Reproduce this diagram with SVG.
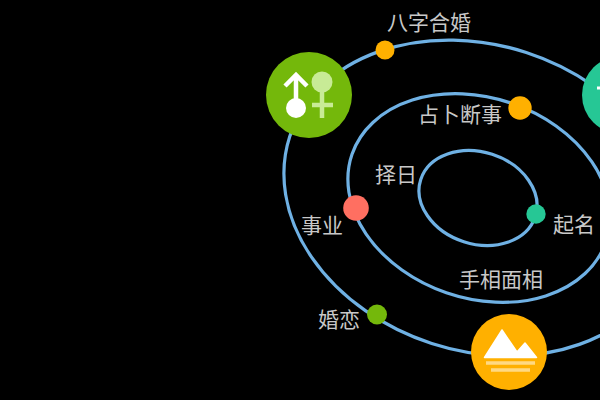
<svg xmlns="http://www.w3.org/2000/svg" width="600" height="400" viewBox="0 0 600 400">
<style>
.orbit{fill:none;stroke:#6fb1e4;stroke-width:3.2}
.lbl{font-family:"Noto Sans CJK SC","Noto Sans",sans-serif;font-size:21px;fill:#c8c8c8}
</style>
<rect width="600" height="400" fill="#000"/>
<g id="connectors">
<ellipse class="orbit" cx="478" cy="198" rx="60.200" ry="46" transform="rotate(18 478 198)"/>
<ellipse class="orbit" cx="479" cy="198" rx="134.300" ry="100.200" transform="rotate(19 479 198)"/>
<ellipse class="orbit" cx="479" cy="198" rx="199" ry="153" transform="rotate(18 479 198)"/>
</g>
<g id="n-marriage"><circle cx="309" cy="95" r="43" fill="#74b80b"/>
<path d="M296 103V75M285 86l11-11 11 11" fill="none" stroke="#fff" stroke-width="4.500"/><circle cx="296" cy="108" r="10" fill="#fff"/>
<circle cx="322" cy="82" r="10.500" fill="#c8eb96"/><path d="M322 90v28M312 105h21" fill="none" stroke="#c8eb96" stroke-width="4.500"/></g>
<g id="n-teal"><circle cx="621" cy="95" r="39" fill="#26c795"/><path d="M597 88h4" stroke="#fff" stroke-width="3"/></g>
<g id="n-mountain"><circle cx="509" cy="352" r="38" fill="#ffb000"/>
<path d="M484.500 357.500L502 330 517 352 525 343 536.500 357.500Z" fill="#fff" stroke="#fff" stroke-width="1.500" stroke-linejoin="round"/>
<path d="M486 363h49M491 370h39" stroke="#ffd983" stroke-width="3.500"/></g>
<g id="d1"><circle cx="385" cy="50" r="9.500" fill="#ffb000"/></g>
<g id="d2"><circle cx="520" cy="108" r="11.700" fill="#ffb000"/></g>
<g id="d3"><circle cx="356" cy="208" r="12.800" fill="#ff6f61"/></g>
<g id="d4"><circle cx="536" cy="214" r="9.700" fill="#26c795"/></g>
<g id="d5"><circle cx="377" cy="314.500" r="10" fill="#74b80b"/></g>
<g id="labels">
<text class="lbl" x="387" y="30">八字合婚</text>
<text class="lbl" x="418" y="122">占卜断事</text>
<text class="lbl" x="375" y="182">择日</text>
<text class="lbl" x="301" y="233">事业</text>
<text class="lbl" x="553" y="232">起名</text>
<text class="lbl" x="459" y="287">手相面相</text>
<text class="lbl" x="318" y="327">婚恋</text>
</g>
</svg>
